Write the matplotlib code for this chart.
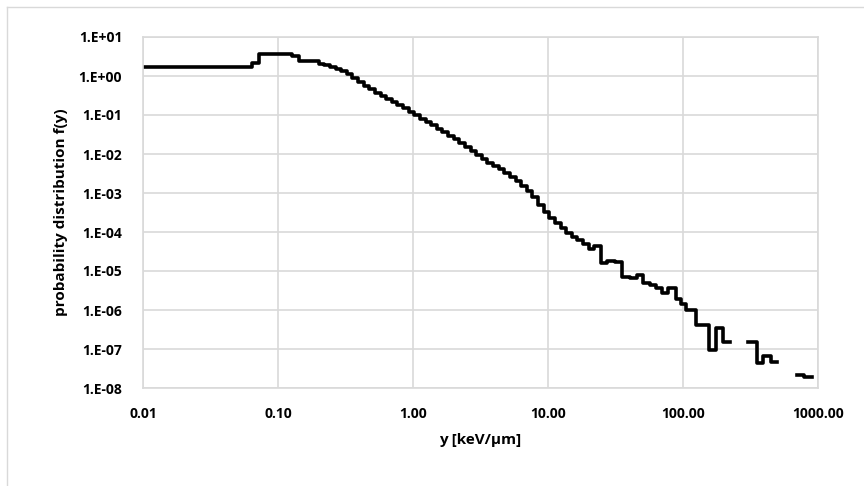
import numpy as np
import matplotlib
matplotlib.use('Agg')
import matplotlib.pyplot as plt
from matplotlib.lines import Line2D

# bin edges of the lineal energy spectrum (keV/um)
y_edges = [0.01, 0.0638, 0.0728, 0.126, 0.143, 0.200, 0.220, 0.242, 0.267, 0.293,
           0.323, 0.356, 0.391, 0.431, 0.474, 0.522, 0.575, 0.632, 0.696, 0.766,
           0.843, 0.928, 1.02, 1.12, 1.24, 1.36, 1.50, 1.65, 1.82, 2.00,
           2.20, 2.42, 2.67, 2.93, 3.23, 3.56, 3.91, 4.31, 4.74, 5.22,
           5.75, 6.32, 6.96, 7.66, 8.43, 9.28, 10.2, 11.2, 12.4, 13.6,
           15.0, 16.5, 18.2, 20.0, 21.9, 24.7, 27.4, 31.3, 35.3, 40.5,
           45.6, 50.6, 57.0, 63.1, 69.9, 77.4, 88.7, 96.6, 105, 125,
           156, 175, 198, 223, 303, 353, 392, 449, 497, 699,
           788, 903]

# f(y) in each bin (nan = empty bin)
f_vals = [1.67, 2.19, 3.66, 3.30, 2.47, 2.03, 1.91, 1.70, 1.51, 1.34,
          1.12, 0.889, 0.702, 0.554, 0.464, 0.367, 0.307, 0.257, 0.215, 0.180,
          0.151, 0.119, 0.0971, 0.0813, 0.0662, 0.0538, 0.0438, 0.0356, 0.0298, 0.0243,
          0.0191, 0.0151, 0.0119, 0.00942, 0.00744, 0.00605, 0.00492, 0.00401, 0.00326, 0.00257,
          0.00203, 0.00151, 0.00112, 7.89e-4, 4.92e-4, 3.26e-4, 2.29e-4, 1.70e-4, 1.27e-4, 9.42e-5,
          7.44e-5, 6.23e-5, 4.92e-5, 3.67e-5, 4.37e-5, 1.60e-5, 1.80e-5, 1.70e-5, 7.02e-6, 6.62e-6,
          7.89e-6, 4.92e-6, 4.37e-6, 3.67e-6, 2.73e-6, 3.67e-6, 1.91e-6, 1.43e-6, 1.0e-6, 4.12e-7,
          9.42e-8, 3.45e-7, 1.51e-7, np.nan, 1.51e-7, 4.37e-8, 6.62e-8, 4.64e-8, np.nan, 2.15e-8,
          1.91e-8]

x_ticks = [0.01, 0.1, 1, 10, 100, 1000]
x_labels = ['0.01', '0.10', '1.00', '10.00', '100.00', '1000.00']
y_ticks = [1e-8, 1e-7, 1e-6, 1e-5, 1e-4, 1e-3, 1e-2, 1e-1, 1e0, 1e1]
y_labels = ['1.E-08', '1.E-07', '1.E-06', '1.E-05', '1.E-04',
            '1.E-03', '1.E-02', '1.E-01', '1.E+00', '1.E+01']

plt.rcParams['font.family'] = ['Open Sans', 'DejaVu Sans']
plt.rcParams['font.weight'] = 'bold'

fig = plt.figure(figsize=(8.64, 4.86), dpi=100)
ax = fig.add_axes([143 / 864, 1 - 388 / 486, 675 / 864, 351 / 486])

ax.step(y_edges, f_vals + [f_vals[-1]], where='post', color='black', lw=2.6)

ax.set_xscale('log')
ax.set_yscale('log')
ax.set_xlim(0.01, 1000)
ax.set_ylim(1e-8, 1e1)
ax.set_xticks(x_ticks)
ax.set_xticklabels(x_labels)
ax.set_yticks(y_ticks)
ax.set_yticklabels(y_labels)
ax.minorticks_off()
ax.tick_params(length=0, labelsize=10)
ax.tick_params(axis='y', pad=15)
ax.tick_params(axis='x', pad=14)
for lab in ax.get_xticklabels() + ax.get_yticklabels():
    lab.set_fontweight('bold')

ax.grid(True, color='#d9d9d9', lw=1.2)
ax.set_axisbelow(True)
for sp in ax.spines.values():
    sp.set_color('#d9d9d9')
    sp.set_linewidth(1.2)

ax.set_xlabel('y [keV/µm]', fontsize=11, fontweight='bold', labelpad=8)
ax.set_ylabel('probability distribution f(y)', fontsize=11, fontweight='bold', labelpad=8)

# chart area border
fig.add_artist(Line2D([7 / 864, 1], [1 - 7 / 486, 1 - 7 / 486], color='#d9d9d9', lw=1))
fig.add_artist(Line2D([7 / 864, 7 / 864], [0, 1 - 7 / 486], color='#d9d9d9', lw=1))

fig.savefig('out.png', dpi=100)
